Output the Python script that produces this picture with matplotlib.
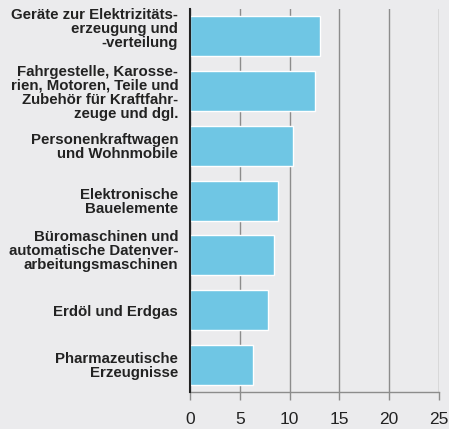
import numpy as np
import matplotlib
matplotlib.use("Agg")
import matplotlib.pyplot as plt
import matplotlib.transforms as mtransforms

categories = [
    "Geräte zur Elektrizitäts-\nerzeugung und\n-verteilung",
    "Fahrgestelle, Karosse-\nrien, Motoren, Teile und\nZubehör für Kraftfahr-\nzeuge und dgl.",
    "Personenkraftwagen\nund Wohnmobile",
    "Elektronische\nBauelemente",
    "Büromaschinen und\nautomatische Datenver-\narbeitungsmaschinen",
    "Erdöl und Erdgas",
    "Pharmazeutische\nErzeugnisse",
]
values = [13.05, 12.55, 10.3, 8.85, 8.4, 7.8, 6.35]
xticks = [0, 5, 10, 15, 20, 25]

bg = "#ebebed"
bar_col = "#6fc6e4"

plt.rcParams['font.family'] = ["Liberation Sans", "DejaVu Sans"]

fig = plt.figure(figsize=(4.49, 4.29), dpi=100, facecolor=bg)
ax = fig.add_axes([190/449, 1 - 392.3/429, 249/449, 383.3/429])
ax.set_facecolor(bg)

y = np.arange(len(categories))
ax.barh(y, values, height=0.73, color=bar_col, edgecolor="white", lw=1.0, zorder=3)

ax.set_xlim(0, 25)
ax.set_ylim(len(categories) - 0.5, -0.5)
ax.set_xticks(xticks)
ax.set_xticklabels([str(t) for t in xticks], fontsize=12.5, color="#222222")
ax.xaxis.grid(True, color="#8c8c8c", lw=1.0, zorder=1)
ax.tick_params(axis="x", length=6, width=1, color="#8c8c8c", pad=8)

ax.set_yticks(y)
ax.set_yticklabels(categories, fontsize=10.8, fontweight="bold",
                   color="#222222", linespacing=1.0)
ax.tick_params(axis="y", length=0, pad=8.5)

# nudge some labels upward as in the original layout
shifts = [9, 0, 0, 0, 6, 0, 0]
for lab, s in zip(ax.get_yticklabels(), shifts):
    lab.set_transform(lab.get_transform() +
                      mtransforms.ScaledTranslation(0, s / 100, fig.dpi_scale_trans))

for side in ["top", "right"]:
    ax.spines[side].set_visible(False)
ax.spines["left"].set_color("#222222")
ax.spines["left"].set_linewidth(1.5)
ax.spines["left"].set_zorder(4)
ax.spines["bottom"].set_color("#8c8c8c")
ax.spines["bottom"].set_linewidth(1.0)

fig.savefig("out.png", dpi=100, facecolor=bg)
